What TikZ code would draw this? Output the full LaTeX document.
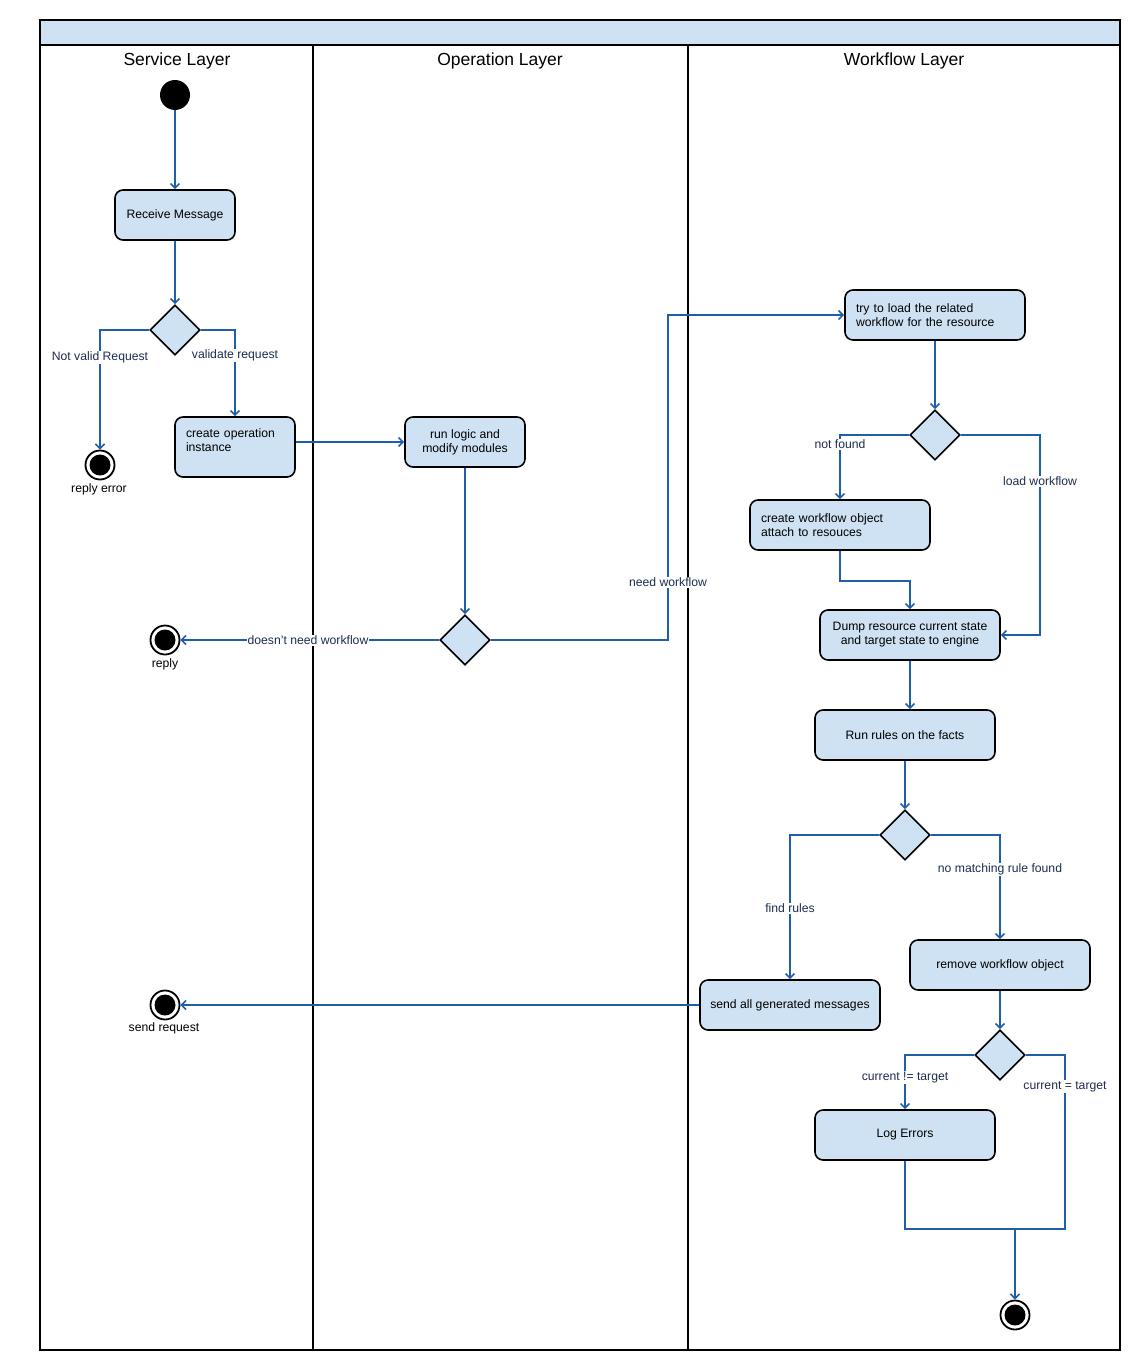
\documentclass[tikz,border=0pt]{standalone}
\usepackage{fontspec}
\setmainfont{Liberation Sans}
\usetikzlibrary{shapes.geometric,arrows.meta}
\definecolor{boxfill}{RGB}{207,226,243}
\definecolor{edgeblue}{RGB}{31,94,168}
\definecolor{lblnavy}{RGB}{28,45,80}
\begin{document}
\begin{tikzpicture}[x=1pt,y=-1pt,
  box/.style={draw=black, line width=1.6pt, fill=boxfill, rounded corners=8pt,
    font=\fontsize{12.2}{14}\selectfont, align=center, inner sep=0pt,
    minimum width=180pt, minimum height=50pt},
  leftbox/.style={box, align=left, inner xsep=11pt, inner ysep=0pt},
  dec/.style={diamond, draw=black, line width=1.6pt, fill=boxfill,
    minimum width=50pt, minimum height=50pt, inner sep=0pt, aspect=1},
  startnode/.style={circle, fill=black, minimum size=30pt, inner sep=0pt},
  finalnode/.style={circle, draw=black, line width=1.8pt, fill=white, minimum size=29pt, inner sep=0pt,
    path picture={\fill[black] (path picture bounding box.center) circle (10.5pt);}},
  arr/.style={draw=edgeblue, line width=1.6pt, -{Straight Barb[length=4.5pt,width=9pt]}},
  plain/.style={draw=edgeblue, line width=1.6pt},
  lbl/.style={fill=white, text=lblnavy, font=\fontsize{12.2}{14}\selectfont, inner sep=1pt},
  caption/.style={text=black, font=\fontsize{12.2}{14}\selectfont, inner sep=1pt},
  lanetitle/.style={font=\fontsize{17.5}{20}\selectfont, inner sep=0pt}
]
\useasboundingbox (0,0) rectangle (1142,1370);
% swimlanes
\fill[boxfill] (40,20) rectangle (1120,45);
\draw[line width=2pt] (40,20) rectangle (1120,1350);
\draw[line width=2pt] (40,45) -- (1120,45);
\draw[line width=2pt] (313,45) -- (313,1350);
\draw[line width=2pt] (688,45) -- (688,1350);
\node[lanetitle] (t1) at (177,60.5) {Service Layer};
\node[lanetitle] (t2) at (500,60.5) {Operation Layer};
\node[lanetitle] (t3) at (904,60.5) {Workflow Layer};

% nodes
\node[startnode] (start) at (175,95) {};
\node[box, minimum width=120pt] (recv) at (175,215) {Receive Message};
\node[dec] (d1) at (175,330) {};
\node[finalnode] (rerr) at (100,465) {};
\node[leftbox, minimum width=120pt, minimum height=60pt, text width=98pt] (cop) at (235,447) {create operation\\instance\\\mbox{}};
\node[box, minimum width=120pt] (rl) at (465,442) {run logic and\\modify modules};
\node[dec] (d2) at (465,640) {};
\node[finalnode] (reply) at (165,640) {};
\node[leftbox, text width=158pt] (try) at (935,315) {try to load the related\\workflow for the resource};
\node[dec] (d3) at (935,435) {};
\node[leftbox, text width=158pt] (cwf) at (840,525) {create workflow object\\attach to resouces};
\node[box] (dump) at (910,635) {Dump resource current state\\and target state to engine};
\node[box] (rr) at (905,735) {Run rules on the facts};
\node[dec] (d4) at (905,835) {};
\node[box] (send) at (790,1005) {send all generated messages};
\node[box] (rem) at (1000,965) {remove workflow object};
\node[finalnode] (sreq) at (165,1005) {};
\node[dec] (d5) at (1000,1055) {};
\node[box] (log) at (905,1135) {Log Errors};
\node[finalnode] (fin) at (1015,1315) {};

\coordinate (nw) at (668,315);
\coordinate (lw) at (1040,635);
\coordinate (jr) at (1065,1229);
\coordinate (jm) at (1015,1229);

% edges
\draw[arr] (start) -- (recv);
\draw[arr] (recv) -- (d1);
\draw[arr] (d1.west) -| (rerr.north);
\draw[arr] (d1.east) -| (cop.north);
\draw[arr] (cop.east |- rl.west) -- (rl.west);
\draw[arr] (rl.south) -- (d2.north);
\draw[arr] (d2.west) -- (reply.east);
\draw[arr] (d2.east) -| (nw) -- (try.west);
\draw[arr] (try.south) -- (d3.north);
\draw[arr] (d3.west) -| (cwf.north);
\draw[arr] (d3.east) -| (lw) -- (dump.east);
\draw[arr] (cwf.south) -- ++(0,30) -| (dump.north);
\draw[arr] (dump.south) -- (dump.south |- rr.north);
\draw[arr] (rr.south) -- (d4.north);
\draw[arr] (d4.west) -| (send.north);
\draw[arr] (d4.east) -| (rem.north);
\draw[arr] (send.west) -- (sreq.east);
\draw[arr] (rem.south) -- (d5.north);
\draw[arr] (d5.west) -| (log.north);
\draw[plain] (d5.east) -| (jr) -- (log.south |- jr) -- (log.south);
\draw[arr] (jm) -- (fin.north);

% labels
\node[lbl] (l1) at (100,357.5) {Not valid Request};
\node[lbl] (l2) at (235,355.5) {validate request};
\node[lbl] (l3) at (308,640.5) {doesn't need workflow};
\node[lbl] (l4) at (668,582.5) {need workflow};
\node[lbl] (l5) at (840,444.5) {not found};
\node[lbl] (l6) at (1040,481.5) {load workflow};
\node[lbl] (l7) at (790,908.5) {find rules};
\node[lbl] (l8) at (1000,869.5) {no matching rule found};
\node[lbl] (l9) at (905,1077.5) {current != target};
\node[lbl] (l10) at (1065,1086.5) {current = target};
\node[caption] (c1) at (99,489.5) {reply error};
\node[caption] (c2) at (165,664.5) {reply};
\node[caption] (c3) at (164,1028.5) {send request};
\end{tikzpicture}
\end{document}
